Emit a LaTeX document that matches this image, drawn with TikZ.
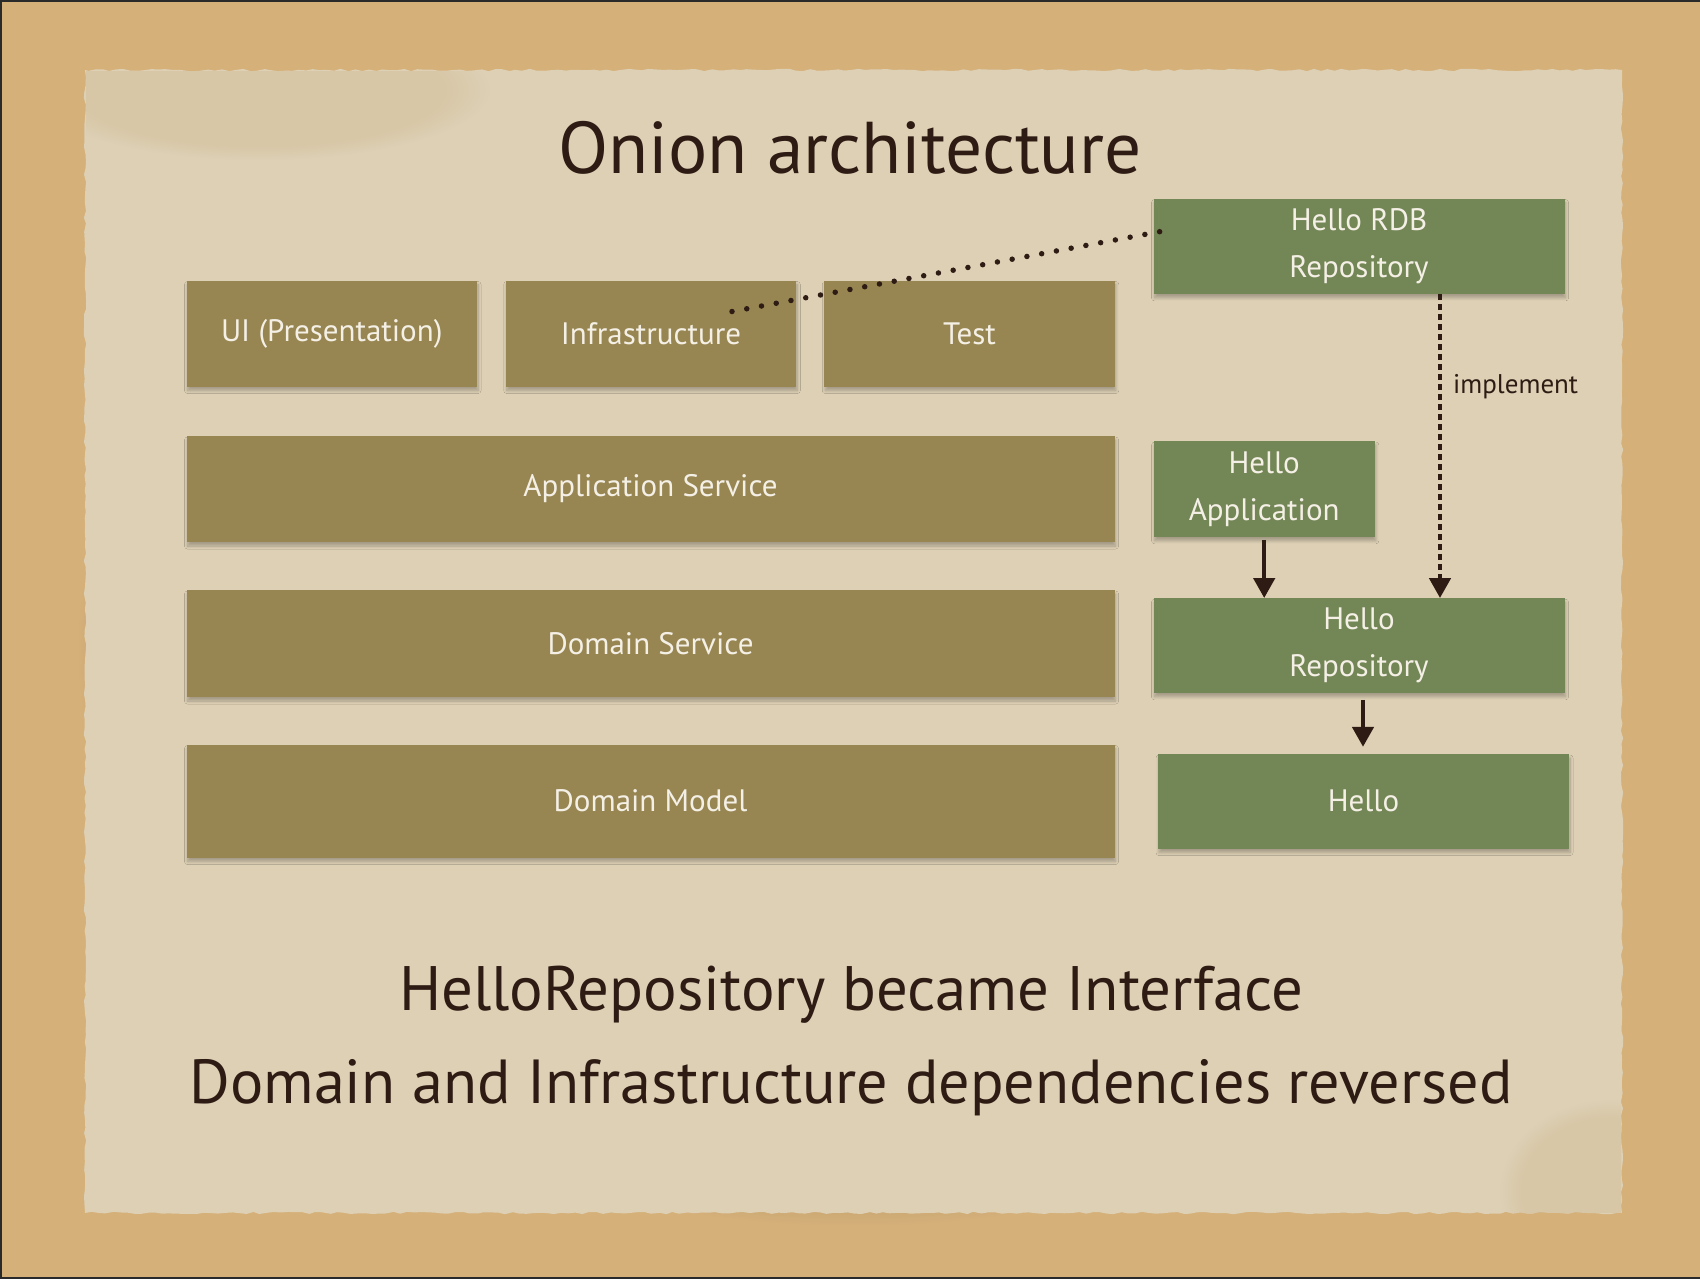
\documentclass[tikz,border=0pt]{standalone}
\usepackage{fontspec}
\setmainfont{PT Sans}
\usetikzlibrary{arrows.meta,shadows.blur,calc,fadings,decorations.pathmorphing}

\definecolor{cork}{HTML}{D5B079}
\definecolor{paper}{HTML}{DDD0B5}
\definecolor{stain}{HTML}{CDB488}
\definecolor{olive}{HTML}{978652}
\definecolor{moss}{HTML}{738656}
\definecolor{ink}{HTML}{2E1C14}
\definecolor{boxtext}{HTML}{F5F0E6}
\definecolor{frameline}{HTML}{2A2A2A}

\begin{document}
\begin{tikzpicture}[x=1pt,y=-1pt,
  layerbox/.style={fill=olive, inner sep=0pt, text=boxtext, align=center,
    font=\fontsize{31}{47}\selectfont,
    blur shadow={shadow xshift=1pt, shadow yshift=-4pt, shadow opacity=25,
      shadow blur radius=3pt, shadow blur steps=8}},
  implbox/.style={layerbox, fill=moss},
  uses/.style={draw=ink, line width=4.5pt, -{Triangle[width=21pt,length=20pt]}},
  implements/.style={draw=ink, line width=4.5pt, dash pattern=on 6pt off 4pt,
    -{Triangle[width=21pt,length=20pt]}},
  dotted link/.style={draw=ink, line width=5.5pt, line cap=round,
    dash pattern=on 0pt off 15pt},
  heading/.style={text=ink, inner sep=0pt, anchor=base},
]
\useasboundingbox (0,0) rectangle (1700,1278);

% cork board behind the sheet
\fill[cork] (0,0) rectangle (1700,1278);
\draw[frameline, line width=3pt] (1700,0) -- (0,0) -- (0,1278) -- (1700,1278);

% sheet of paper with a soft shadow and slightly ragged edges
\fill[black, opacity=0.15, path fading=circle with fuzzy edge 10 percent]
  (80,74) rectangle (1628,1224);
\fill[paper, decorate, decoration={random steps, segment length=7pt, amplitude=1.2pt}]
  (85,70) rectangle (1622,1213);
\begin{scope}
  \clip (86,71) rectangle (1621,1212);
  \fill[stain, opacity=0.3, path fading=circle with fuzzy edge 20 percent]
    (260,90) ellipse [x radius=230pt, y radius=70pt];
  \fill[stain, opacity=0.3, path fading=circle with fuzzy edge 20 percent]
    (1610,1190) ellipse [x radius=110pt, y radius=90pt];
\end{scope}

% title
\node[heading] (title) at (850,173)
  {\resizebox{583pt}{!}{\fontsize{60}{60}\selectfont Onion architecture}};

% layers of the onion
\node[layerbox, minimum width=290.5pt, minimum height=106pt] (ui)    at (331.75,333.5) {UI (Presentation)};
\node[layerbox, minimum width=290.5pt, minimum height=106pt] (infra) at (651.0,333.5)  {Infrastructure};
\node[layerbox, minimum width=290.5pt, minimum height=106pt] (test)  at (969.5,333.5)  {Test};
\node[layerbox, minimum width=928pt, minimum height=106pt]   (appsvc) at (650.5,489)   {Application Service};
\node[layerbox, minimum width=928pt, minimum height=107pt]   (domsvc) at (650.5,643.5) {Domain Service};
\node[layerbox, minimum width=928pt, minimum height=113pt]   (dommod) at (650.5,801)   {Domain Model};

% the Hello example
\node[implbox, minimum width=411pt, minimum height=95.3pt] (rdb)   at (1359,246.2)  {Hello RDB\\Repository};
\node[implbox, minimum width=221.2pt, minimum height=95.7pt] (happ) at (1264.2,488.9) {Hello\\Application};
\node[implbox, minimum width=411pt, minimum height=94.5pt] (hrepo) at (1359,645.5)  {Hello\\Repository};
\node[implbox, minimum width=411pt, minimum height=94.5pt] (hello) at (1363.5,801.3) {Hello};

% dependencies
\draw[uses] ($(happ.south)+(0,3)$) -- (happ.south |- hrepo.north);
\draw[uses] ($(hrepo.south)+(4,7)$) -- ($(hrepo.south |- hello.north)+(4,-7)$);
\draw[implements] ($(rdb.south)+(81,0)$) -- ($(hrepo.north)+(81,0)$);
\node[text=ink, inner sep=0pt, anchor=base west, font=\fontsize{27}{33}\selectfont]
  (impllabel) at (1453,393) {implement};

% the infrastructure layer holds the RDB repository
\coordinate (infratail) at (732,311.5);
\coordinate (rdbtail) at (1174,229);
\draw[dotted link] (infratail) -- (rdbtail);

% conclusion
\node[heading] (line1) at (851,1010)
  {\resizebox{904pt}{!}{\fontsize{60}{60}\selectfont HelloRepository became Interface}};
\node[heading] (line2) at (851,1103)
  {\resizebox{1323pt}{!}{\fontsize{60}{60}\selectfont Domain and Infrastructure dependencies reversed}};
\end{tikzpicture}
\end{document}
